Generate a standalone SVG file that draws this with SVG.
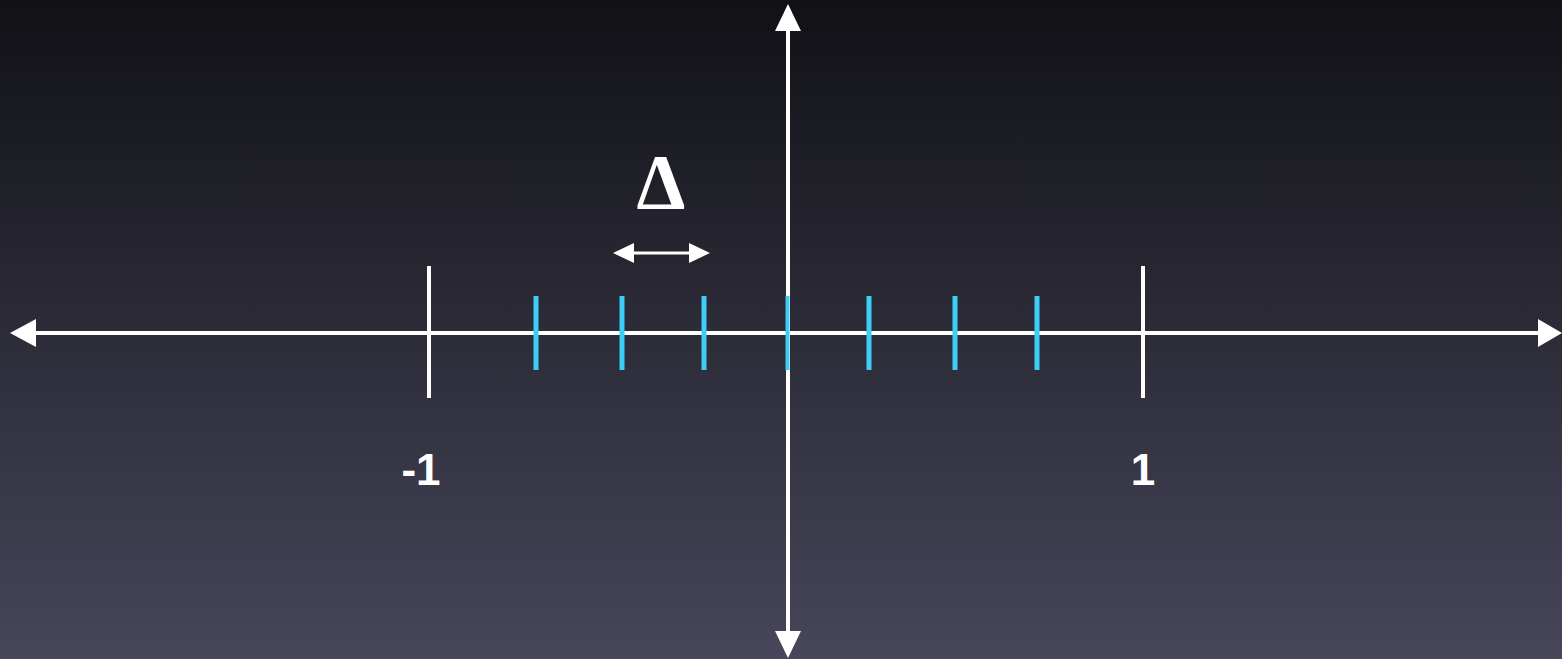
<svg xmlns="http://www.w3.org/2000/svg" width="1562" height="659" viewBox="0 0 1562 659">
<defs>
<linearGradient id="bg" x1="0" y1="0" x2="0" y2="1">
<stop offset="0" stop-color="#111116"/>
<stop offset="1" stop-color="#47465a"/>
</linearGradient>
<style>
.ax{stroke:#fff;stroke-width:4;fill:none}
.wt{stroke:#fff;stroke-width:4}
.bt{stroke:#3dcdf7;stroke-width:5}
.hd{fill:#fff}
.lbl{font-family:"Gill Sans","Liberation Sans",sans-serif;fill:#fff;font-size:44px;font-weight:bold}
</style>
</defs>
<rect width="1562" height="659" fill="url(#bg)"/>
<g id="connectors">
<line class="ax" x1="34" y1="333" x2="1540" y2="333"/>
<polygon class="hd" points="10,333 36,319 36,347"/>
<polygon class="hd" points="1562,333 1538,319 1538,347"/>
<line class="ax" x1="788" y1="28" x2="788" y2="634"/>
<polygon class="hd" points="788,4 775,31 801,31"/>
<polygon class="hd" points="788,658 775,631 801,631"/>
<line class="ax" style="stroke-width:3" x1="630" y1="253" x2="693" y2="253"/>
<polygon class="hd" points="613,253 634,243 634,263"/>
<polygon class="hd" points="710,253 689,243 689,263"/>
</g>
<g id="ticks">
<line class="wt" x1="429" y1="266" x2="429" y2="398"/>
<line class="wt" x1="1143" y1="266" x2="1143" y2="398"/>
<line class="bt" x1="536" y1="296" x2="536" y2="370"/>
<line class="bt" x1="622" y1="296" x2="622" y2="370"/>
<line class="bt" x1="704" y1="296" x2="704" y2="370"/>
<line class="bt" x1="787.5" y1="296" x2="787.5" y2="370" style="stroke-width:4"/>
<line class="bt" x1="869" y1="296" x2="869" y2="370"/>
<line class="bt" x1="955" y1="296" x2="955" y2="370"/>
<line class="bt" x1="1037" y1="296" x2="1037" y2="370"/>
</g>
<g id="label-delta">
<text x="661" y="208" text-anchor="middle" style="font-family:'Liberation Serif',serif;font-size:78px;font-weight:bold;fill:#fff">Δ</text>
</g>
<g id="label-minus1">
<text class="lbl" x="421" y="485" text-anchor="middle">-1</text>
</g>
<g id="label-1">
<text class="lbl" x="1143" y="485" text-anchor="middle">1</text>
</g>
</svg>
